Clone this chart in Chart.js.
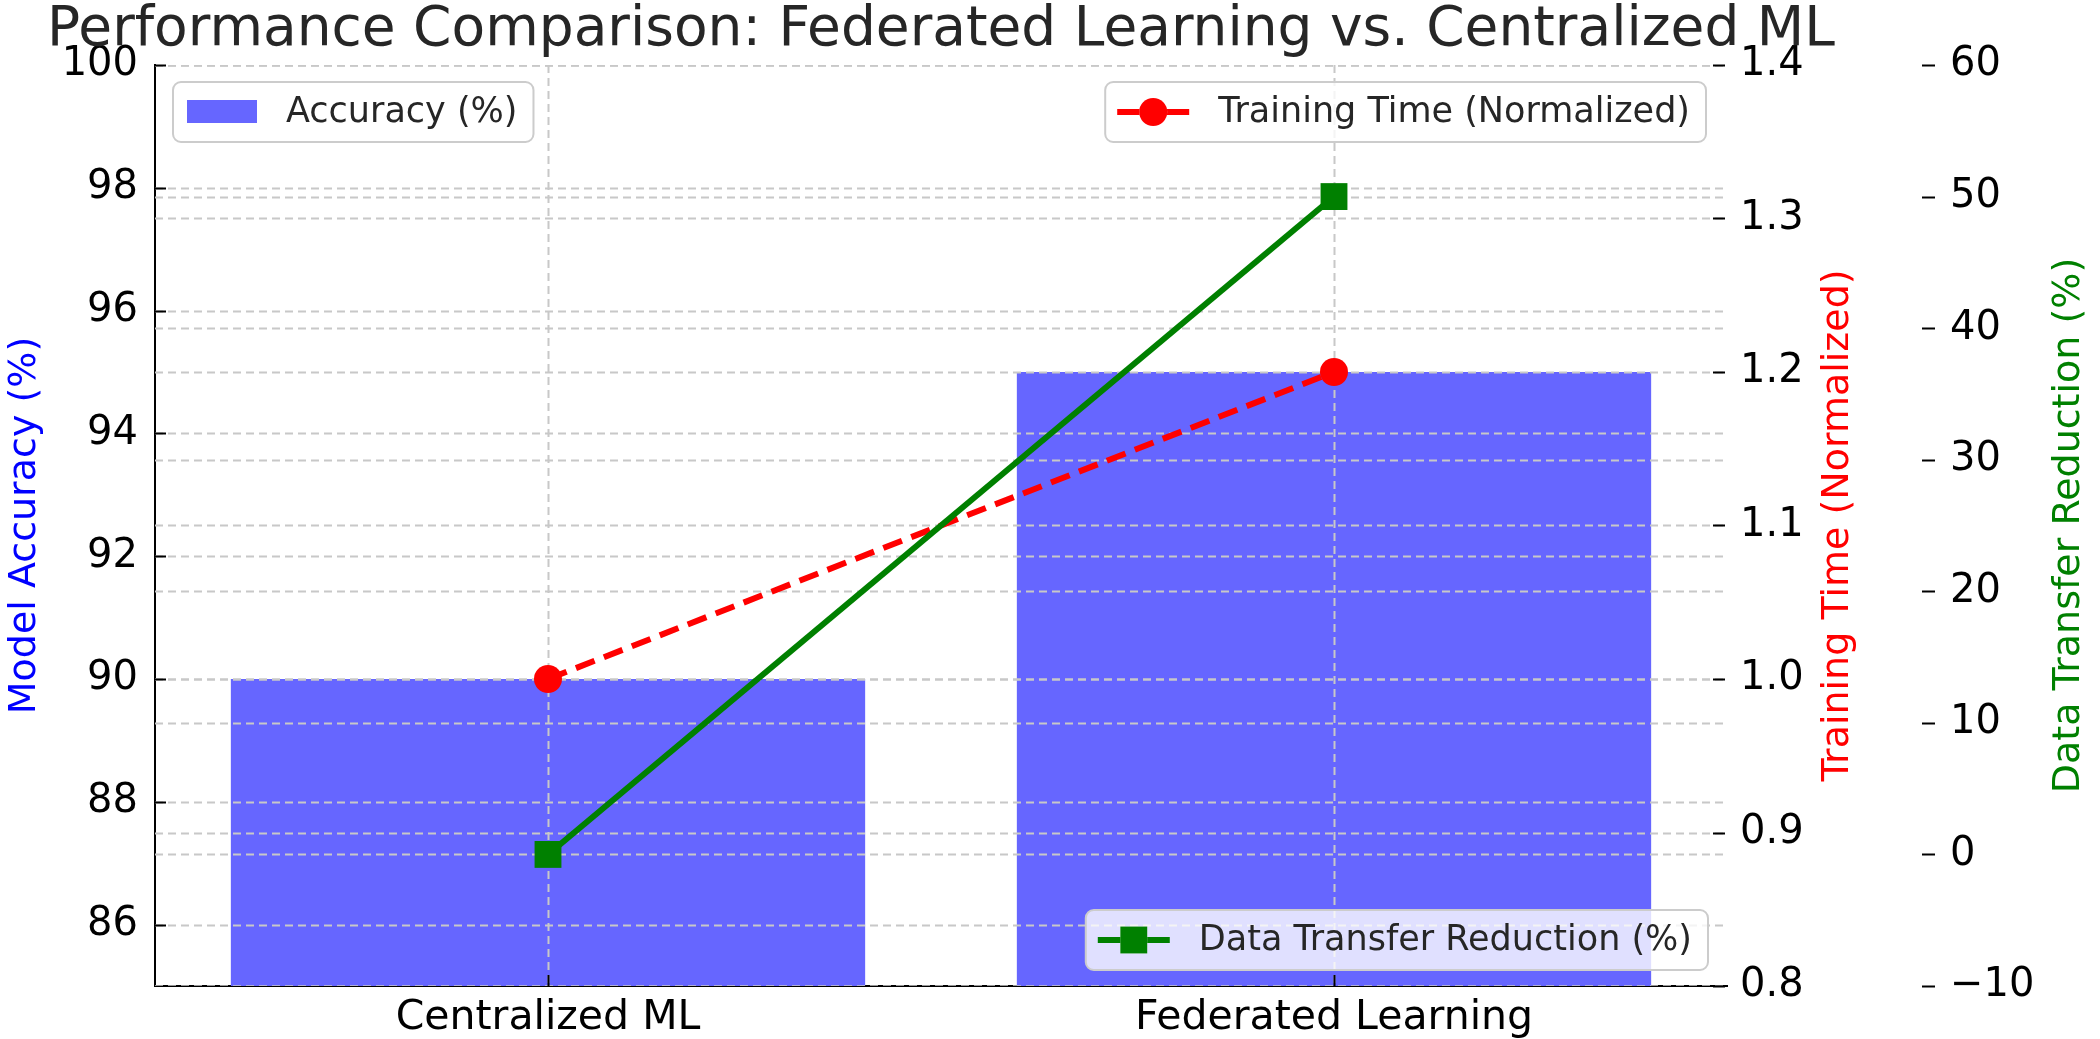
<!DOCTYPE html>
<html>
<head>
<meta charset="utf-8">
<script src="https://cdn.jsdelivr.net/npm/chart.js@4.4.1/dist/chart.umd.min.js"></script>
<style>
  html, body { margin: 0; padding: 0; background: #fff; }
  #wrap { width: 2100px; height: 1039px; }
</style>
</head>
<body>
<div id="wrap"><canvas id="perfChart" width="2100" height="1039"></canvas></div>
<script>
// ---- data ----
const categories = ['Centralized ML', 'Federated Learning'];
const accuracy = [90, 95];
const trainingTime = [1.0, 1.2];
const dataReduction = [0, 50];

const accTicks = [86, 88, 90, 92, 94, 96, 98, 100];
const timeTicks = [0.8, 0.9, 1.0, 1.1, 1.2, 1.3, 1.4];
const reductionTicks = [-10, 0, 10, 20, 30, 40, 50, 60];

const titleText = 'Performance Comparison: Federated Learning vs. Centralized ML';
const FONT = '"DejaVu Sans", "Noto Sans", sans-serif';

Chart.defaults.font.family = FONT;
Chart.defaults.color = '#000';

function fixTicks(list) {
  return scale => { scale.ticks = list.map(v => ({ value: v })); };
}

// grid lines drawn over the bars but under the lines
const gridOverBars = {
  id: 'gridOverBars',
  afterDatasetDraw(chart, args) {
    if (args.index !== 0) return;
    const ctx = chart.ctx, ca = chart.chartArea;
    ctx.save();
    ctx.beginPath();
    ctx.rect(ca.left, ca.top, ca.right - ca.left, ca.bottom - ca.top);
    ctx.clip();
    ctx.strokeStyle = '#c8c8c8';
    ctx.lineWidth = 2;
    ctx.setLineDash([8, 5]);
    ['y', 'y1', 'y2'].forEach(id => {
      const s = chart.scales[id];
      s.ticks.forEach(t => {
        const y = Math.round(s.getPixelForValue(t.value)) + 0.5;
        ctx.beginPath();
        ctx.moveTo(ca.left, y);
        ctx.lineTo(ca.right, y);
        ctx.stroke();
      });
    });
    const xs = chart.scales.x;
    categories.forEach((c, i) => {
      const x = Math.round(xs.getPixelForValue(i)) + 0.5;
      ctx.beginPath();
      ctx.moveTo(x, ca.top);
      ctx.lineTo(x, ca.bottom);
      ctx.stroke();
    });
    ctx.restore();
  }
};

function roundRect(ctx, x, y, w, h, r) {
  ctx.beginPath();
  ctx.moveTo(x + r, y);
  ctx.arcTo(x + w, y, x + w, y + h, r);
  ctx.arcTo(x + w, y + h, x, y + h, r);
  ctx.arcTo(x, y + h, x, y, r);
  ctx.arcTo(x, y, x + w, y, r);
  ctx.closePath();
}

function legendBox(ctx, x, y, w, h) {
  roundRect(ctx, x, y, w, h, 8);
  ctx.fillStyle = 'rgba(255,255,255,0.8)';
  ctx.fill();
  ctx.strokeStyle = '#cccccc';
  ctx.lineWidth = 2;
  ctx.setLineDash([]);
  ctx.stroke();
}

const decorations = {
  id: 'decorations',
  afterDraw(chart) {
    const ctx = chart.ctx, ca = chart.chartArea;
    const ds = chart.data.datasets;
    ctx.save();

    // tick marks: inward on left / bottom, short dashes on the right axes
    ctx.strokeStyle = '#000';
    ctx.lineWidth = 2;
    ctx.setLineDash([]);
    const hTick = (scale, x0, x1) => {
      scale.ticks.forEach(t => {
        const y = Math.round(scale.getPixelForValue(t.value)) + 0.5;
        ctx.beginPath(); ctx.moveTo(x0, y); ctx.lineTo(x1, y); ctx.stroke();
      });
    };
    hTick(chart.scales.y, ca.left, ca.left + 11);
    hTick(chart.scales.y1, ca.right - 14, ca.right - 2);
    hTick(chart.scales.y2, chart.scales.y2.left, chart.scales.y2.left + 13);
    const xs = chart.scales.x;
    categories.forEach((c, i) => {
      const x = Math.round(xs.getPixelForValue(i)) + 0.5;
      ctx.beginPath(); ctx.moveTo(x, ca.bottom); ctx.lineTo(x, ca.bottom - 11); ctx.stroke();
    });

    // title
    ctx.fillStyle = '#262626';
    ctx.font = '55px ' + FONT;
    ctx.textAlign = 'center';
    ctx.textBaseline = 'alphabetic';
    ctx.fillText(titleText, (ca.left + ca.right) / 2, ca.top - 20);

    // axis titles, all reading bottom to top
    const midY = (ca.top + ca.bottom) / 2;
    const axisTitles = [
      { text: 'Model Accuracy (%)', color: '#0000ff', x: chart.scales.y.left + 25 },
      { text: 'Training Time (Normalized)', color: '#ff0000', x: chart.scales.y1.left + 111 },
      { text: 'Data Transfer Reduction (%)', color: '#008000', x: chart.scales.y2.left + 147 }
    ];
    ctx.font = '38px ' + FONT;
    ctx.textBaseline = 'middle';
    axisTitles.forEach(a => {
      ctx.save();
      ctx.translate(a.x, midY);
      ctx.rotate(-Math.PI / 2);
      ctx.fillStyle = a.color;
      ctx.fillText(a.text, 0, 0);
      ctx.restore();
    });

    // legends
    ctx.font = '35px ' + FONT;
    ctx.textAlign = 'left';
    const h = 60;

    // accuracy legend, upper left
    let w = 113 + ctx.measureText(ds[0].label).width + 16;
    let lx = ca.left + 18, ly = ca.top + 17;
    legendBox(ctx, lx, ly, w, h);
    ctx.fillStyle = ds[0].backgroundColor;
    ctx.fillRect(lx + 14, ly + 18, 70, 23);
    ctx.fillStyle = '#262626';
    ctx.fillText(ds[0].label, lx + 113, ly + h / 2 + 1);

    // line legends
    const lineLegend = (d, rightX, topY) => {
      const tw = ctx.measureText(d.label).width;
      const bw = 113 + tw + 16;
      const bx = rightX - bw;
      legendBox(ctx, bx, topY, bw, h);
      const cy = topY + h / 2;
      ctx.strokeStyle = d.borderColor;
      ctx.lineWidth = d.borderWidth;
      ctx.setLineDash([]);
      ctx.beginPath(); ctx.moveTo(bx + 12, cy); ctx.lineTo(bx + 84, cy); ctx.stroke();
      Chart.helpers.drawPoint(ctx, {
        pointStyle: d.pointStyle, radius: d.pointRadius, rotation: 0, borderWidth: 0
      }, bx + 48, cy);
      ctx.fillStyle = d.pointBackgroundColor;
      ctx.fill();
      ctx.fillStyle = '#262626';
      ctx.fillText(d.label, bx + 113, cy + 1);
    };
    lineLegend(ds[1], ca.right - 21, ca.top + 17);
    lineLegend(ds[2], ca.right - 19, ca.bottom - 16 - h);

    ctx.restore();
  }
};

new Chart(document.getElementById('perfChart'), {
  type: 'bar',
  data: {
    labels: categories,
    datasets: [
      {
        type: 'bar',
        label: 'Accuracy (%)',
        data: accuracy,
        yAxisID: 'y',
        backgroundColor: '#6666ff',
        borderWidth: 0,
        barPercentage: 0.807,
        categoryPercentage: 1.0,
        order: 3
      },
      {
        type: 'line',
        label: 'Training Time (Normalized)',
        data: trainingTime,
        yAxisID: 'y1',
        borderColor: '#ff0000',
        borderWidth: 6,
        borderDash: [20, 10],
        pointStyle: 'circle',
        pointRadius: 14,
        pointBackgroundColor: '#ff0000',
        pointBorderWidth: 0,
        order: 2
      },
      {
        type: 'line',
        label: 'Data Transfer Reduction (%)',
        data: dataReduction,
        yAxisID: 'y2',
        borderColor: '#008000',
        borderWidth: 6,
        pointStyle: 'rect',
        pointRadius: 19,
        pointBackgroundColor: '#008000',
        pointBorderWidth: 0,
        order: 1
      }
    ]
  },
  options: {
    responsive: false,
    animation: false,
    devicePixelRatio: 1,
    layout: { padding: { top: 65, left: 0, right: 0, bottom: 0 } },
    plugins: {
      legend: { display: false },
      title: { display: false },
      tooltip: { enabled: false }
    },
    scales: {
      x: {
        offset: true,
        grid: { display: false },
        border: { display: true, color: '#000', width: 2 },
        ticks: { font: { size: 41 }, padding: 0, color: '#000' },
        afterFit: s => { s.height = 53; }
      },
      y: {
        position: 'left',
        min: 85, max: 100,
        afterBuildTicks: fixTicks(accTicks),
        grid: { drawOnChartArea: false, drawTicks: false },
        border: { display: true, color: '#000', width: 2 },
        ticks: { font: { size: 40 }, padding: 17, color: '#000' },
        afterFit: s => { s.width = 155; }
      },
      y1: {
        position: 'right',
        min: 0.8, max: 1.4,
        afterBuildTicks: fixTicks(timeTicks),
        grid: { drawOnChartArea: false, drawTicks: false },
        border: { display: false },
        ticks: { font: { size: 40 }, padding: 13, color: '#000', callback: v => Number(v).toFixed(1) },
        afterFit: s => { s.width = 195; }
      },
      y2: {
        position: 'right',
        min: -10, max: 60,
        afterBuildTicks: fixTicks(reductionTicks),
        grid: { drawOnChartArea: false, drawTicks: false },
        border: { display: false },
        ticks: { font: { size: 40 }, padding: 28, color: '#000', callback: v => (v < 0 ? '\u2212' + Math.abs(v) : String(v)) },
        afterFit: s => { s.width = 178; }
      }
    }
  },
  plugins: [gridOverBars, decorations]
});
</script>
</body>
</html>
